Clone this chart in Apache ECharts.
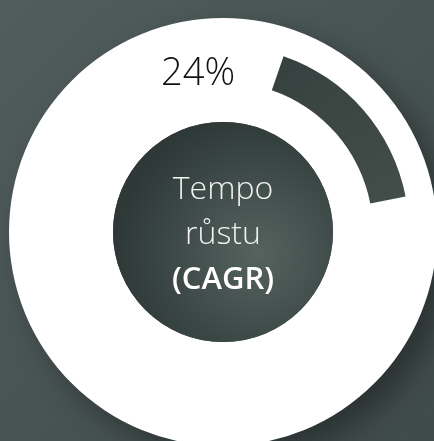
<!DOCTYPE html>
<html>
<head>
<meta charset="utf-8">
<script src="https://cdn.jsdelivr.net/npm/echarts@6/dist/echarts.min.js"></script>
<style>
  html, body { margin: 0; padding: 0; }
  #chart { width: 434px; height: 441px; }
</style>
</head>
<body>
<div id="chart"></div>
<script>
// data
var labels = ['CAGR', 'zbytek'];
var values = [24, 76];
var centerLines = ['Tempo', 'růstu', '(CAGR)'];

var chart = echarts.init(document.getElementById('chart'));
var cx = 223, cy = 232;

chart.setOption({
    backgroundColor: {
        type: 'linear', x: 0, y: 0, x2: 1, y2: 1,
        colorStops: [
            { offset: 0, color: '#505d5c' },
            { offset: 1, color: '#3f4b4a' }
        ]
    },
    title: {
        text: values[0] + '%',
        left: 156,
        top: 50,
        textStyle: {
            fontFamily: 'Open Sans',
            fontWeight: 300,
            fontSize: 38,
            color: '#111'
        }
    },
    series: [
        // white disc
        {
            type: 'pie',
            center: [cx, cy],
            radius: [110, 214],
            silent: true,
            label: { show: false },
            itemStyle: {
                color: '#fff',
                shadowBlur: 30,
                shadowOffsetX: 14,
                shadowOffsetY: 14,
                shadowColor: 'rgba(0,0,0,0.35)'
            },
            data: [{ value: 1, name: 'ring' }]
        },
        // inner dark circle with centre text
        {
            type: 'pie',
            center: [cx, cy],
            radius: [0, 110],
            silent: true,
            itemStyle: {
                color: {
                    type: 'radial', x: 0.66, y: 0.6, r: 0.65,
                    colorStops: [
                        { offset: 0, color: '#55635f' },
                        { offset: 1, color: '#2d3837' }
                    ]
                }
            },
            label: {
                show: true,
                position: 'center',
                offset: [0, 3],
                formatter: '{a|' + centerLines[0] + '}\n{a|' + centerLines[1] + '}\n{b|' + centerLines[2] + '}',
                rich: {
                    a: {
                        fontFamily: 'Open Sans',
                        fontWeight: 300,
                        fontSize: 32,
                        lineHeight: 45,
                        color: '#f2f2f2'
                    },
                    b: {
                        fontFamily: 'Open Sans',
                        fontWeight: 600,
                        fontSize: 31,
                        lineHeight: 45,
                        color: '#ffffff'
                    }
                }
            },
            labelLine: { show: false },
            data: [{ value: 1, name: 'centre' }]
        },
        // 24% arc (gauge over 250 degrees)
        {
            type: 'pie',
            center: [cx, cy],
            radius: [150, 186],
            startAngle: 71,
            endAngle: -179,
            clockwise: true,
            silent: true,
            label: { show: false },
            labelLine: { show: false },
            data: [
                {
                    value: values[0], name: labels[0],
                    itemStyle: {
                        color: {
                            type: 'linear', x: 0, y: 0, x2: 1, y2: 1,
                            colorStops: [
                                { offset: 0, color: '#36403e' },
                                { offset: 1, color: '#434e4b' }
                            ]
                        }
                    }
                },
                { value: values[1], name: labels[1], itemStyle: { color: 'rgba(0,0,0,0)' } }
            ]
        }
    ]
});
</script>
</body>
</html>
